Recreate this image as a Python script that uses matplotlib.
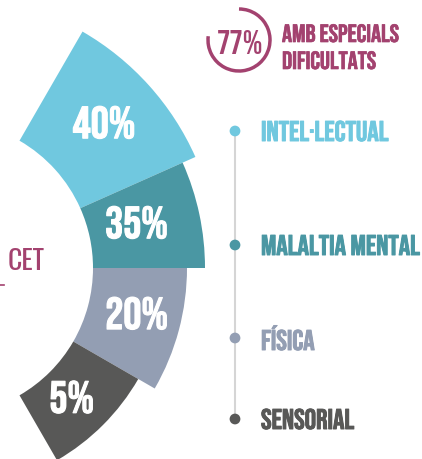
import matplotlib
matplotlib.use("Agg")
import matplotlib.pyplot as plt
import matplotlib.patheffects as pe
from matplotlib.patches import Wedge, Arc
import numpy as np

# data
categories = ["INTEL·LECTUAL", "MALALTIA MENTAL", "FÍSICA", "SENSORIAL"]
shares = [40, 35, 20, 5]
total_share = 77
title_lines = ["AMB ESPECIALS", "DIFICULTATS"]
side_label = "CET"

# styling (geometry of the infographic, in pixels)
colors = ["#70C8DF", "#4A97A3", "#939EB3", "#585857"]
purple = "#A3426F"
spans = [(24, 60), (0, 24), (-30, 0), (-60, -30)]
outer_r = [273, 259, 241, 222]
inner_r = 147
lab_ang = [42.7, 13.5, -13.3, -45.7]
lab_r = [215, 196, 196, 180]
cx, cy = -54, 459 - 268

bebas = ["Bebas Neue", "Oswald", "DejaVu Sans"]
thin = ["Oswald", "DejaVu Sans"]

def bold(c, w=0.7):
    # thicken the glyphs a little
    return [pe.Stroke(linewidth=w, foreground=c), pe.Normal()]

W, H = 422, 459
fig = plt.figure(figsize=(W / 100, H / 100), dpi=100)
ax = fig.add_axes([0, 0, 1, 1])
ax.set_xlim(0, W)
ax.set_ylim(0, H)
ax.axis("off")

#segments
for i, v in enumerate(shares):
    t1, t2 = spans[i]
    ax.add_patch(Wedge((cx, cy), outer_r[i], t1, t2, width=outer_r[i] - inner_r,
                       facecolor=colors[i], edgecolor="none"))
    a = np.deg2rad(lab_ang[i])
    ax.text(cx + lab_r[i] * np.cos(a), cy + lab_r[i] * np.sin(a), f"{v}%", color="white",
            fontsize=32.5, family=bebas, ha="center", va="center",
            path_effects=bold("white", 0.8))

# legend timeline
ys = [459 - 131, 459 - 245, 459 - 338, 459 - 419]
ax.plot([235, 235], [ys[0], ys[-1]], color="#D5D5D5", lw=1.5, zorder=1)
for i, name in enumerate(categories):
    ax.scatter(235, ys[i], s=60, color=colors[i], zorder=2, edgecolors="none")
    ax.text(261, ys[i], name, color=colors[i], fontsize=20.5,
            family=bebas, ha="left", va="center", path_effects=bold(colors[i]))

# 77% ring
ax.add_patch(Arc((239, 459 - 40), 62, 62, theta1=-187, theta2=90,
                 color=purple, lw=2.5))
ax.text(240, 459 - 42, f"{total_share}%", color=purple, fontsize=24,
        family=bebas, ha="center", va="center")
ax.text(282, 459 - 33, title_lines[0], color=purple, fontsize=18,
        family=bebas, ha="left", va="center", path_effects=bold(purple, 0.5))
ax.text(282, 459 - 60, title_lines[1], color=purple, fontsize=18,
        family=bebas, ha="left", va="center", path_effects=bold(purple, 0.5))

# CET label
ax.text(8, 459 - 262, side_label, color=purple, fontsize=20, family=thin,
        fontweight="light", ha="left", va="center")
ax.plot([0, 4], [459 - 285, 459 - 285], color=purple, lw=1.2)

fig.savefig("out.png", dpi=100)
